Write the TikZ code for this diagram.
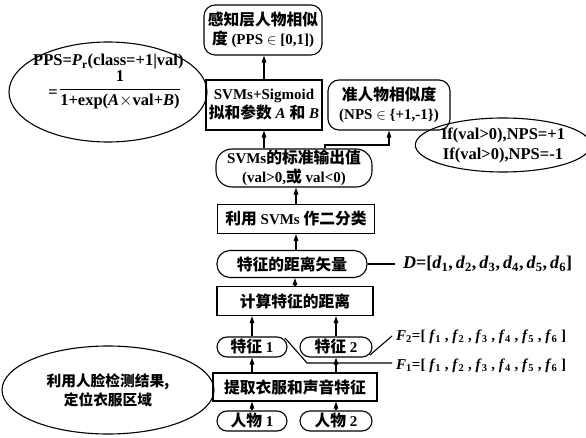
\documentclass[tikz,border=0pt]{standalone}
\usepackage{fontspec}
\setmainfont{Liberation Serif}
\newfontfamily\cjk[Scale=1.05]{Noto Sans CJK SC}
\newcommand{\zh}[1]{{\cjk #1}}
\usetikzlibrary{arrows.meta,shapes.geometric}
\begin{document}
\begin{tikzpicture}[x=1pt,y=-1pt,
  every node/.style={font=\fontsize{15}{19}\selectfont\bfseries, inner sep=0pt, align=center},
  sq/.style={draw, line width=1.1pt, rectangle},
  rd/.style={draw, line width=1.1pt, rectangle, rounded corners=11pt},
  pill/.style={draw, line width=1.1pt, rectangle, rounded corners=10pt},
  ell/.style={draw, line width=1.1pt, ellipse},
  lbl/.style={anchor=west, font=\fontsize{15}{19}\selectfont\bfseries},
  big/.style={font=\fontsize{16.5}{20}\selectfont\bfseries},
  arr/.style={line width=1.1pt, -{Triangle[length=7pt,width=4.5pt]}},
  ln/.style={line width=1.1pt}]
\useasboundingbox (0,0) rectangle (586,438);

% main column
\node[rd, minimum width=118pt, minimum height=50pt] (pps) at (263,30)
  {\zh{感知层人物相似}\\\zh{度} (PPS $\in$ [0,1])};
\node[sq, minimum width=116pt, minimum height=50pt] (sig) at (264,105)
  {SVMs+Sigmoid\\\zh{拟和参数} \textit{A} \zh{和} \textit{B}};
\node[rd, minimum width=122pt, minimum height=50pt] (nps) at (389,105)
  {\zh{准人物相似度}\\(NPS $\in$ \{+1,-1\})};
\node[rd, rounded corners=16pt, minimum width=156pt, minimum height=38pt] (out) at (294,168)
  {SVMs\zh{的标准输出值}\\(val>0,\zh{或} val<0)};
\node[sq, minimum width=157pt, minimum height=29pt] (cls) at (296,219)
  {\zh{利用} SVMs \zh{作二分类}};
\node[pill, rounded corners=13pt, minimum width=150pt, minimum height=27pt] (dv) at (292,264)
  {\zh{特征的距离矢量}};
\node[sq, minimum width=156pt, minimum height=29pt] (calc) at (295,301)
  {\zh{计算特征的距离}};
\node[pill, minimum width=70pt, minimum height=20pt] (f1) at (252,347) {\zh{特征} 1};
\node[pill, minimum width=72pt, minimum height=20pt] (f2) at (336,347) {\zh{特征} 2};
\node[sq, minimum width=164pt, minimum height=28pt] (ext) at (295,387)
  {\zh{提取衣服和声音特征}};
\node[pill, minimum width=70pt, minimum height=20pt] (p1) at (252,421) {\zh{人物} 1};
\node[pill, minimum width=72pt, minimum height=20pt] (p2) at (336,421) {\zh{人物} 2};

% ellipses
\node[ell, minimum width=198pt, minimum height=100pt] (form) at (108,92) {};
\node[big, anchor=west] (fl1) at (33,62) {PPS=\textit{P}\textsubscript{r}(class=+1|val)};
\node[big] (feq) at (53,94) {=};
\node[big] (ffrac) at (120,90)
  {$\displaystyle\frac{\mbox{\bfseries 1}}{\mbox{\bfseries 1+exp(\textit{A}$\times$val+\textit{B})}}$};
\node[ell, minimum width=160pt, minimum height=54pt, font=\fontsize{16.5}{20}\selectfont\bfseries] (ifs) at (503,145)
  {If(val>0),NPS=+1\\If(val>0),NPS=-1};
\node[ell, minimum width=212pt, minimum height=88pt, font=\fontsize{14}{19}\selectfont\bfseries] (face) at (108,390)
  {\zh{利用人脸检测结果,}\\\zh{定位衣服区域}};

% labels
\node[lbl, font=\fontsize{18}{20}\selectfont\bfseries] (dl) at (403,264) {\textit{D}=[\textit{d}\textsubscript{1},\,\textit{d}\textsubscript{2},\,\textit{d}\textsubscript{3},\,\textit{d}\textsubscript{4},\,\textit{d}\textsubscript{5},\,\textit{d}\textsubscript{6}]};
\node[lbl] (f2l) at (396,337) {\textit{F}\textsubscript{2}=[ \textit{f}\textsubscript{1} , \textit{f}\textsubscript{2} , \textit{f}\textsubscript{3} , \textit{f}\textsubscript{4} , \textit{f}\textsubscript{5} , \textit{f}\textsubscript{6} ]};
\node[lbl] (f1l) at (396,366) {\textit{F}\textsubscript{1}=[ \textit{f}\textsubscript{1} , \textit{f}\textsubscript{2} , \textit{f}\textsubscript{3} , \textit{f}\textsubscript{4} , \textit{f}\textsubscript{5} , \textit{f}\textsubscript{6} ]};

% connectors
\draw[arr] (sig.north) -- (sig.north |- pps.south);
\draw[arr] (sig.south |- out.north) -- (sig.south);
\coordinate (e1) at (325,145);
\draw[arr] (e1 |- out.north) -- (e1) -| (nps.south);
\draw[arr] (cls.north) -- (cls.north |- out.south);
\draw[arr] (dv.north -| cls.north) -- (cls.south);
\draw[arr] (calc.north) -- (calc.north |- dv.south);
\draw[arr] (f1.north) -- (f1.north |- calc.south);
\draw[arr] (f2.north) -- (f2.north |- calc.south);
\draw[arr] (f1.south |- ext.north) -- (f1.south);
\draw[arr] (f2.south |- ext.north) -- (f2.south);
\draw[arr] (p1.north) -- (p1.north |- ext.south);
\draw[arr] (p2.north) -- (p2.north |- ext.south);

\coordinate (dend) at (395,264);
\draw[ln] (dv.east) -- (dend);
\coordinate (f2a) at (370,355);
\coordinate (f2b) at (392,336);
\draw[ln] (f2a) -- (f2b);
\coordinate (f1a) at (285,338);
\coordinate (f1b) at (307,363);
\coordinate (f1c) at (392,363);
\draw[ln] (f1a) -- (f1b) -- (f1c);
\end{tikzpicture}
\end{document}
